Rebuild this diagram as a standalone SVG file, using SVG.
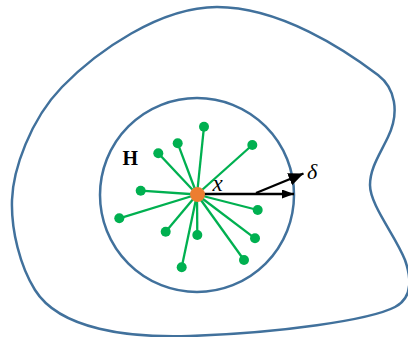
<svg xmlns="http://www.w3.org/2000/svg" width="408" height="337" viewBox="0 0 408 337">
<style>
.blue{fill:none;stroke:#41719c;stroke-width:2.5}
.spoke{stroke:#00b050;stroke-width:2.3}
.dot{fill:#00b050}
.arr{stroke:#000;stroke-width:2.4;fill:none}
.lbl{font-family:"Liberation Serif","Times New Roman",serif;fill:#000}
</style>
<defs>
<marker id="ah1" markerWidth="13" markerHeight="10" refX="12" refY="4.5" orient="auto" markerUnits="userSpaceOnUse">
<path d="M0,0 L12,4.5 L0,9 Z" fill="#000"/>
</marker>
<marker id="ah2" markerWidth="17" markerHeight="14" refX="15" refY="6.5" orient="auto" markerUnits="userSpaceOnUse">
<path d="M0,0 L15,6.5 L0,13 Z" fill="#000"/>
</marker>
</defs>
<g id="domain">
<path class="blue" d="M217,7 C280,7 345,50 378,75 C395,88 400,112 388,137 C380,154 370,168 370,185 C370,205 395,235 405,260 C412,280 412,298 395,307 C370,320 280,333 190,336 C130,338 60,330 35,290 C20,266 11,230 12,200 C13,170 30,120 62,87 C97,51 160,7 217,7 Z"/>
</g>
<g id="ball">
<circle class="blue" cx="197" cy="195" r="97"/>
</g>
<g id="connectors">
<line class="spoke" x1="197" y1="194.5" x2="204" y2="126.7"/>
<line class="spoke" x1="197" y1="194.5" x2="177.7" y2="143.3"/>
<line class="spoke" x1="197" y1="194.5" x2="158.3" y2="153.3"/>
<line class="spoke" x1="197" y1="194.5" x2="252.3" y2="145"/>
<line class="spoke" x1="197" y1="194.5" x2="140.7" y2="190.7"/>
<line class="spoke" x1="197" y1="194.5" x2="119.3" y2="218.3"/>
<line class="spoke" x1="197" y1="194.5" x2="165.7" y2="231.7"/>
<line class="spoke" x1="197" y1="194.5" x2="197.3" y2="235"/>
<line class="spoke" x1="197" y1="194.5" x2="181.7" y2="267.3"/>
<line class="spoke" x1="197" y1="194.5" x2="257.7" y2="210"/>
<line class="spoke" x1="197" y1="194.5" x2="255" y2="238.3"/>
<line class="spoke" x1="197" y1="194.5" x2="244" y2="260"/>
<line class="arr" x1="197" y1="194" x2="294" y2="194" marker-end="url(#ah1)"/>
<line class="arr" x1="256" y1="193" x2="303.5" y2="173.5" marker-end="url(#ah2)"/>
</g>
<g id="samples">
<circle class="dot" cx="204" cy="126.7" r="5"/>
<circle class="dot" cx="177.7" cy="143.3" r="5"/>
<circle class="dot" cx="158.3" cy="153.3" r="5"/>
<circle class="dot" cx="252.3" cy="145" r="5"/>
<circle class="dot" cx="140.7" cy="190.7" r="5"/>
<circle class="dot" cx="119.3" cy="218.3" r="5"/>
<circle class="dot" cx="165.7" cy="231.7" r="5"/>
<circle class="dot" cx="197.3" cy="235" r="5"/>
<circle class="dot" cx="181.7" cy="267.3" r="5"/>
<circle class="dot" cx="257.7" cy="210" r="5"/>
<circle class="dot" cx="255" cy="238.3" r="5"/>
<circle class="dot" cx="244" cy="260" r="5"/>
</g>
<g id="center">
<circle cx="197.5" cy="194.5" r="7.5" fill="#ed7d31"/>
</g>
<g id="labels">
<text class="lbl" x="122.5" y="165" font-size="20" font-weight="bold">H</text>
<text class="lbl" x="212.5" y="190.5" font-size="23" font-style="italic">x</text>
<text class="lbl" x="307" y="179" font-size="22" font-style="italic">δ</text>
</g>
</svg>
